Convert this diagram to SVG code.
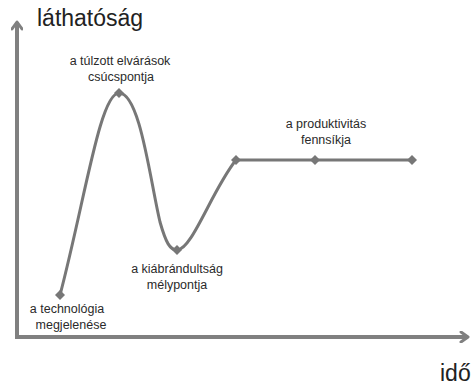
<svg xmlns="http://www.w3.org/2000/svg" width="471" height="385" viewBox="0 0 471 385">
  <style>
    .axis { stroke: #808080; stroke-width: 4; fill: none; }
    .curve { stroke: #777777; stroke-width: 3; fill: none; stroke-linejoin: round; }
    .pt { fill: #777777; }
    .lbl { font-family: "Liberation Sans", Arial, sans-serif; font-size: 12.5px; fill: #2a2a2a; text-anchor: middle; }
    .ax { font-family: "Liberation Sans", Arial, sans-serif; font-size: 23px; fill: #222222; }
  </style>
  <defs>
    <marker id="arrow" viewBox="0 0 12 12" refX="9" refY="6" markerWidth="12" markerHeight="12" markerUnits="userSpaceOnUse" orient="auto">
      <path d="M2,1 L9,6 L2,11" fill="none" stroke="#808080" stroke-width="3" stroke-linecap="round" stroke-linejoin="round"/>
    </marker>
    <path id="diamond" d="M0,-5 L5,0 L0,5 L-5,0 Z"/>
  </defs>
  <rect width="471" height="385" fill="#ffffff"/>

  <g id="axes">
    <path class="axis" d="M17,337 L17,22" marker-end="url(#arrow)"/>
    <path class="axis" d="M15,337 L468,337" marker-end="url(#arrow)"/>
    <text class="ax" x="37" y="26">láthatóság</text>
    <text class="ax" x="440" y="381">idő</text>
  </g>

  <g id="connectors">
    <path class="curve" d="M60,295 C85,200 100,93 119,93 C140,93 150,180 160,222 C166,243 170,250 177,250 C192,250 212,190 236,160 L413,160"/>
  </g>

  <g id="node-megjelenes">
    <use href="#diamond" class="pt" x="60" y="295"/>
    <text class="lbl" x="67" y="313">a technológia</text>
    <text class="lbl" x="71" y="329">megjelenése</text>
  </g>

  <g id="node-csucspont">
    <use href="#diamond" class="pt" x="119" y="93"/>
    <text class="lbl" x="120" y="65">a túlzott elvárások</text>
    <text class="lbl" x="121" y="81">csúcspontja</text>
  </g>

  <g id="node-melypont">
    <use href="#diamond" class="pt" x="177" y="250"/>
    <text class="lbl" x="177" y="273">a kiábrándultság</text>
    <text class="lbl" x="177" y="289">mélypontja</text>
  </g>

  <g id="node-fennsik-start">
    <use href="#diamond" class="pt" x="236" y="160"/>
  </g>

  <g id="node-fennsik">
    <use href="#diamond" class="pt" x="315" y="160"/>
    <text class="lbl" x="326" y="128">a produktivitás</text>
    <text class="lbl" x="326" y="144">fennsíkja</text>
  </g>

  <g id="node-fennsik-end">
    <use href="#diamond" class="pt" x="412" y="160"/>
  </g>
</svg>
